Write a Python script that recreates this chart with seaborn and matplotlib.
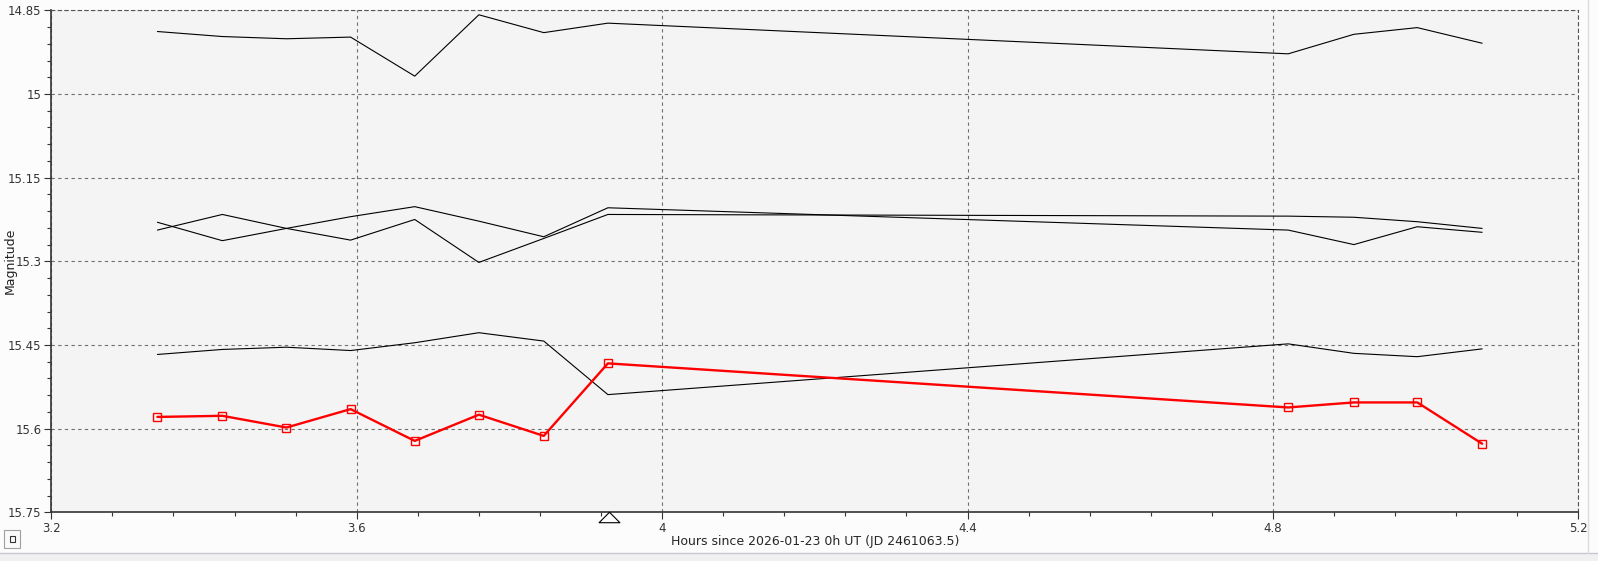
import numpy as np
import pandas as pd
import seaborn as sns
import matplotlib.pyplot as plt
from matplotlib.ticker import MultipleLocator
from matplotlib.patches import Rectangle
from matplotlib.path import Path

# observation times (hours since 2026-01-23 0h UT)
hours = [3.339, 3.424, 3.508, 3.592, 3.676, 3.760,
         3.845, 3.929, 4.820, 4.906, 4.989, 5.074]

# target star (red)
target_mag = [15.579, 15.577, 15.598, 15.565, 15.622, 15.575,
              15.613, 15.483, 15.562, 15.553, 15.553, 15.627]

# comparison / check stars (black)
comp1_mag = [14.888, 14.897, 14.901, 14.898, 14.968, 14.858,
             14.890, 14.873, 14.928, 14.893, 14.881, 14.909]
comp2_mag = [15.244, 15.216, 15.241, 15.220, 15.202, 15.228,
             15.256, 15.204, 15.244, 15.270, 15.238, 15.248]
comp3_mag = [15.230, 15.263, 15.241, 15.262, 15.225, 15.302,
             15.259, 15.216, 15.219, 15.221, 15.229, 15.241]
comp4_mag = [15.467, 15.458, 15.454, 15.460, 15.446, 15.428,
             15.443, 15.539, 15.448, 15.465, 15.471, 15.457]

marker_hour = 3.930

sns.set_style("ticks")
plt.rcParams['font.family'] = ['DejaVu Sans']

fig = plt.figure(figsize=(15.98, 5.61), dpi=100, facecolor="#fcfcfc")
ax = fig.add_axes([0.0321, 0.0868, 0.9556, 0.8948])
ax.set_facecolor("#f4f4f4")

for mags in [comp1_mag, comp2_mag, comp3_mag, comp4_mag]:
    df = pd.DataFrame({"h": hours, "m": mags})
    sns.lineplot(data=df, x="h", y="m", color="black", linewidth=0.8,
                 estimator=None, ax=ax)

df_t = pd.DataFrame({"h": hours, "m": target_mag})
sns.lineplot(data=df_t, x="h", y="m", color="red", linewidth=1.7,
             estimator=None, marker="s", markersize=5.5,
             markerfacecolor="none", markeredgecolor="red",
             markeredgewidth=1.0, ax=ax, zorder=5)

ax.set_xlim(3.2, 5.2)
ax.set_ylim(15.75, 14.85)
ax.xaxis.set_minor_locator(MultipleLocator(0.08))
ax.yaxis.set_minor_locator(MultipleLocator(0.03))
ax.set_xticks([3.2, 3.6, 4.0, 4.4, 4.8, 5.2])
ax.set_xticklabels(["3.2", "3.6", "4", "4.4", "4.8", "5.2"])
ax.set_yticks([14.85, 15.0, 15.15, 15.3, 15.45, 15.6, 15.75])
ax.set_yticklabels(["14.85", "15", "15.15", "15.3", "15.45", "15.6", "15.75"])

ax.grid(True, which="major", linestyle=(0, (3, 3)), color="#707070", linewidth=0.8)
ax.tick_params(which="major", length=5, width=0.8, color="#333333",
               labelsize=8.5, labelcolor="#333333", pad=2)
ax.tick_params(which="minor", length=3, width=0.8, color="#333333")

for side in ["left", "bottom"]:
    ax.spines[side].set_color("#333333")
    ax.spines[side].set_linewidth(1.2)
for side in ["top", "right"]:
    ax.spines[side].set_visible(True)
    ax.spines[side].set_color("#555555")
    ax.spines[side].set_linestyle((0, (3, 3)))
    ax.spines[side].set_linewidth(0.8)

ax.set_xlabel("Hours since 2026-01-23 0h UT (JD 2461063.5)", fontsize=9, labelpad=0)
ax.set_ylabel("")
fig.text(10 / 1598, 1 - 261 / 561, "Magnitude", rotation=90, fontsize=9,
         ha="center", va="center", color="#222222")

# open triangle marker just below the x axis
tri = Path([(-1, -0.5), (1, -0.5), (0, 0.5), (-1, -0.5)],
           [Path.MOVETO, Path.LINETO, Path.LINETO, Path.CLOSEPOLY])
ax.plot([marker_hour], [-0.009], marker=tri, markersize=15, markerfacecolor="white",
        markeredgecolor="black", markeredgewidth=0.8, linestyle="none",
        transform=ax.get_xaxis_transform(), clip_on=False, zorder=6)

# window chrome: bottom strip, right border, small button
fig.patches.append(Rectangle((0, 0), 1, 8 / 561, transform=fig.transFigure,
                             facecolor="#f0f0f0", edgecolor="none"))
fig.lines.append(plt.Line2D([0, 1], [8 / 561, 8 / 561], transform=fig.transFigure,
                            color="#c8c8d0", linewidth=1))
fig.lines.append(plt.Line2D([1587.5 / 1598] * 2, [8 / 561, 1], transform=fig.transFigure,
                            color="#dcdce0", linewidth=1))
fig.patches.append(Rectangle((4 / 1598, 13 / 561), 16 / 1598, 18 / 561,
                             transform=fig.transFigure, facecolor="#fafafa",
                             edgecolor="#a0a0a0", linewidth=0.8))
fig.patches.append(Rectangle((9.5 / 1598, 19 / 561), 5 / 1598, 6 / 561,
                             transform=fig.transFigure, facecolor="none",
                             edgecolor="#333333", linewidth=0.8))

fig.savefig("out.png", dpi=100, facecolor=fig.get_facecolor())
plt.close("all")
